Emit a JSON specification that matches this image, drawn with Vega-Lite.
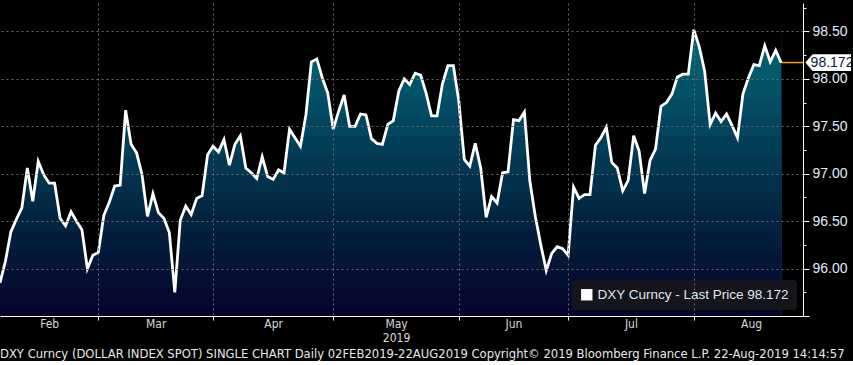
{
  "$schema": "https://vega.github.io/schema/vega-lite/v6.json",
  "background": "#000000",
  "padding": {"left": 0, "top": 0, "right": 0, "bottom": 0},
  "width": 803,
  "height": 313,
  "config": {"view": {"stroke": null}, "font": "DejaVu Sans Condensed, Liberation Sans, sans-serif"},
  "title": {
    "text": "DXY Curncy (DOLLAR INDEX SPOT) SINGLE CHART  Daily 02FEB2019-22AUG2019 Copyright© 2019 Bloomberg Finance L.P. 22-Aug-2019 14:14:57",
    "orient": "bottom", "anchor": "start", "frame": "group",
    "font": "DejaVu Sans Condensed, Liberation Sans, sans-serif", "fontSize": 12.9, "fontWeight": "normal",
    "color": "#e8e8e8", "offset": 5
  },
  "data": {"values": [
    {"session": 0, "price": 95.85}, {"session": 1, "price": 96.08}, {"session": 2, "price": 96.39}, {"session": 3, "price": 96.52},
    {"session": 4, "price": 96.64}, {"session": 5, "price": 97.06}, {"session": 6, "price": 96.71}, {"session": 7, "price": 97.13},
    {"session": 8, "price": 96.99}, {"session": 9, "price": 96.90}, {"session": 10, "price": 96.90}, {"session": 11, "price": 96.53},
    {"session": 12, "price": 96.45}, {"session": 13, "price": 96.60}, {"session": 14, "price": 96.50}, {"session": 15, "price": 96.41},
    {"session": 16, "price": 96.00}, {"session": 17, "price": 96.14}, {"session": 18, "price": 96.17}, {"session": 19, "price": 96.56},
    {"session": 20, "price": 96.70}, {"session": 21, "price": 96.87}, {"session": 22, "price": 96.88}, {"session": 23, "price": 97.67},
    {"session": 24, "price": 97.31}, {"session": 25, "price": 97.22}, {"session": 26, "price": 96.99}, {"session": 27, "price": 96.55},
    {"session": 28, "price": 96.79}, {"session": 29, "price": 96.59}, {"session": 30, "price": 96.53}, {"session": 31, "price": 96.38},
    {"session": 32, "price": 95.75}, {"session": 33, "price": 96.51}, {"session": 34, "price": 96.66}, {"session": 35, "price": 96.57},
    {"session": 36, "price": 96.74}, {"session": 37, "price": 96.77}, {"session": 38, "price": 97.20}, {"session": 39, "price": 97.29},
    {"session": 40, "price": 97.23}, {"session": 41, "price": 97.36}, {"session": 42, "price": 97.09}, {"session": 43, "price": 97.31},
    {"session": 44, "price": 97.40}, {"session": 45, "price": 97.06}, {"session": 46, "price": 97.01}, {"session": 47, "price": 96.95},
    {"session": 48, "price": 97.18}, {"session": 49, "price": 96.97}, {"session": 50, "price": 96.94}, {"session": 51, "price": 97.04},
    {"session": 52, "price": 97.01}, {"session": 53, "price": 97.47}, {"session": 54, "price": 97.38}, {"session": 55, "price": 97.29},
    {"session": 56, "price": 97.62}, {"session": 57, "price": 98.18}, {"session": 58, "price": 98.21}, {"session": 59, "price": 98.01},
    {"session": 60, "price": 97.85}, {"session": 61, "price": 97.47}, {"session": 62, "price": 97.66}, {"session": 63, "price": 97.83},
    {"session": 64, "price": 97.50}, {"session": 65, "price": 97.50}, {"session": 66, "price": 97.63}, {"session": 67, "price": 97.62},
    {"session": 68, "price": 97.37}, {"session": 69, "price": 97.32}, {"session": 70, "price": 97.31}, {"session": 71, "price": 97.52},
    {"session": 72, "price": 97.56}, {"session": 73, "price": 97.87}, {"session": 74, "price": 98.00}, {"session": 75, "price": 97.94},
    {"session": 76, "price": 98.06}, {"session": 77, "price": 98.04}, {"session": 78, "price": 97.85}, {"session": 79, "price": 97.61},
    {"session": 80, "price": 97.61}, {"session": 81, "price": 97.95}, {"session": 82, "price": 98.14}, {"session": 83, "price": 98.14},
    {"session": 84, "price": 97.76}, {"session": 85, "price": 97.15}, {"session": 86, "price": 97.08}, {"session": 87, "price": 97.32},
    {"session": 88, "price": 97.06}, {"session": 89, "price": 96.54}, {"session": 90, "price": 96.76}, {"session": 91, "price": 96.69},
    {"session": 92, "price": 97.01}, {"session": 93, "price": 97.02}, {"session": 94, "price": 97.57}, {"session": 95, "price": 97.56},
    {"session": 96, "price": 97.65}, {"session": 97, "price": 96.92}, {"session": 98, "price": 96.55}, {"session": 99, "price": 96.25},
    {"session": 100, "price": 95.98}, {"session": 101, "price": 96.16}, {"session": 102, "price": 96.23}, {"session": 103, "price": 96.21},
    {"session": 104, "price": 96.14}, {"session": 105, "price": 96.86}, {"session": 106, "price": 96.74}, {"session": 107, "price": 96.78},
    {"session": 108, "price": 96.78}, {"session": 109, "price": 97.30}, {"session": 110, "price": 97.38}, {"session": 111, "price": 97.49},
    {"session": 112, "price": 97.12}, {"session": 113, "price": 97.06}, {"session": 114, "price": 96.82}, {"session": 115, "price": 96.93},
    {"session": 116, "price": 97.40}, {"session": 117, "price": 97.24}, {"session": 118, "price": 96.79}, {"session": 119, "price": 97.14},
    {"session": 120, "price": 97.26}, {"session": 121, "price": 97.71}, {"session": 122, "price": 97.75}, {"session": 123, "price": 97.84},
    {"session": 124, "price": 98.02}, {"session": 125, "price": 98.05}, {"session": 126, "price": 98.05}, {"session": 127, "price": 98.52},
    {"session": 128, "price": 98.34}, {"session": 129, "price": 98.08}, {"session": 130, "price": 97.52}, {"session": 131, "price": 97.64},
    {"session": 132, "price": 97.55}, {"session": 133, "price": 97.63}, {"session": 134, "price": 97.51}, {"session": 135, "price": 97.38},
    {"session": 136, "price": 97.84}, {"session": 137, "price": 98.01}, {"session": 138, "price": 98.15}, {"session": 139, "price": 98.14},
    {"session": 140, "price": 98.35}, {"session": 141, "price": 98.18}, {"session": 142, "price": 98.30}, {"session": 143, "price": 98.172}
  ]},
  "encoding": {
    "x": {
      "field": "session", "type": "quantitative",
      "scale": {"domain": [0, 147], "nice": false, "zero": false},
      "axis": {
        "title": null,
        "values": [9, 18, 28.5, 39, 50, 61, 72.5, 84, 94, 104, 115.5, 127, 137.5],
        "labelExpr": "datum.value==9?'Feb':datum.value==28.5?'Mar':datum.value==50?'Apr':datum.value==72.5?['May','2019']:datum.value==94?'Jun':datum.value==115.5?'Jul':datum.value==137.5?'Aug':''",
        "grid": true,
        "gridColor": {"condition": {"test": "indexof([18,39,61,84,104,127], datum.value) >= 0", "value": "#6a6a6a"}, "value": "transparent"},
        "gridDash": [2, 3],
        "tickColor": {"condition": {"test": "indexof([18,39,61,84,104,127], datum.value) >= 0", "value": "#ffffff"}, "value": "transparent"},
        "tickSize": 4,
        "domainColor": "#ffffff",
        "labelColor": "#d8d8d8",
        "labelFontSize": 12,
        "labelPadding": -2,
        "labelLineHeight": 14,
        "labelFlush": false,
        "labelOverlap": false,
        "zindex": 1
      }
    },
    "y": {
      "field": "price", "type": "quantitative",
      "scale": {"domain": [95.5, 98.8], "nice": false, "zero": false},
      "axis": {
        "title": null,
        "orient": "right",
        "values": [95.5, 95.75, 96, 96.25, 96.5, 96.75, 97, 97.25, 97.5, 97.75, 98, 98.25, 98.5, 98.75],
        "labelExpr": "(datum.value*2)%1==0 && datum.value>=96 ? format(datum.value,'.2f') : ''",
        "grid": true,
        "gridColor": {"condition": {"test": "(datum.value*2)%1==0 && datum.value>=96", "value": "#6a6a6a"}, "value": "transparent"},
        "gridDash": [2, 3],
        "tickSize": {"condition": {"test": "(datum.value*2)%1==0", "value": 6}, "value": 3},
        "tickColor": "#ffffff",
        "domainColor": "#ffffff",
        "labelColor": "#e2ecff",
        "labelFont": "Liberation Sans",
        "labelFontSize": 14,
        "labelPadding": 3,
        "labelOverlap": false,
        "zindex": 1
      }
    }
  },
  "layer": [
    {"mark": {"type": "area", "clip": true, "color": "#016876"}, "encoding": {"y": {"datum": 98.6}, "y2": {"datum": 95.5}}},
    {"mark": {"type": "area", "clip": true, "color": "#026171"}, "encoding": {"y": {"datum": 98.4}, "y2": {"datum": 95.5}}},
    {"mark": {"type": "area", "clip": true, "color": "#025a6d"}, "encoding": {"y": {"datum": 98.2}, "y2": {"datum": 95.5}}},
    {"mark": {"type": "area", "clip": true, "color": "#025368"}, "encoding": {"y": {"datum": 98.0}, "y2": {"datum": 95.5}}},
    {"mark": {"type": "area", "clip": true, "color": "#034c63"}, "encoding": {"y": {"datum": 97.8}, "y2": {"datum": 95.5}}},
    {"mark": {"type": "area", "clip": true, "color": "#03455e"}, "encoding": {"y": {"datum": 97.6}, "y2": {"datum": 95.5}}},
    {"mark": {"type": "area", "clip": true, "color": "#033e58"}, "encoding": {"y": {"datum": 97.4}, "y2": {"datum": 95.5}}},
    {"mark": {"type": "area", "clip": true, "color": "#033752"}, "encoding": {"y": {"datum": 97.2}, "y2": {"datum": 95.5}}},
    {"mark": {"type": "area", "clip": true, "color": "#03314b"}, "encoding": {"y": {"datum": 97.0}, "y2": {"datum": 95.5}}},
    {"mark": {"type": "area", "clip": true, "color": "#032a45"}, "encoding": {"y": {"datum": 96.8}, "y2": {"datum": 95.5}}},
    {"mark": {"type": "area", "clip": true, "color": "#03233f"}, "encoding": {"y": {"datum": 96.6}, "y2": {"datum": 95.5}}},
    {"mark": {"type": "area", "clip": true, "color": "#031d3b"}, "encoding": {"y": {"datum": 96.4}, "y2": {"datum": 95.5}}},
    {"mark": {"type": "area", "clip": true, "color": "#041737"}, "encoding": {"y": {"datum": 96.2}, "y2": {"datum": 95.5}}},
    {"mark": {"type": "area", "clip": true, "color": "#041032"}, "encoding": {"y": {"datum": 96.0}, "y2": {"datum": 95.5}}},
    {"mark": {"type": "area", "clip": true, "color": "#050a2e"}, "encoding": {"y": {"datum": 95.8}, "y2": {"datum": 95.5}}},
    {"mark": {"type": "area", "clip": true, "color": "#05052b"}, "encoding": {"y": {"datum": 95.6}, "y2": {"datum": 95.5}}},
    {"mark": {"type": "area", "clip": true, "color": "#000000"}, "encoding": {"y2": {"datum": 98.8}}},
    {
      "mark": {"type": "line", "strokeWidth": 2.8, "clip": true},
      "encoding": {
        "color": {
          "datum": "DXY Curncy - Last Price 98.172", "type": "nominal",
          "scale": {"range": ["#ffffff"]},
          "legend": {
            "title": null, "orient": "bottom-right", "offset": 6,
            "fillColor": "#15151b", "cornerRadius": 3, "padding": 8,
            "symbolType": "square", "symbolSize": 130,
            "symbolFillColor": "#ffffff", "symbolStrokeColor": "#ffffff", "symbolStrokeWidth": 0,
            "labelColor": "#dfe8f2", "labelFont": "Liberation Sans", "labelFontSize": 13.5, "labelLimit": 400
          }
        }
      }
    },
    {
      "transform": [{"filter": "datum.session == 143"}],
      "mark": {"type": "rule", "color": "#ff9a1a", "strokeWidth": 1.5},
      "encoding": {
        "x": {"field": "session", "type": "quantitative"},
        "x2": {"datum": 147},
        "y": {"field": "price", "type": "quantitative"}
      }
    },
    {
      "transform": [{"filter": "datum.session == 143"}],
      "mark": {"type": "point", "shape": "M0.1,0 L0.4,-0.35 L2,-0.35 L2,0.35 L0.4,0.35 Z", "filled": true, "color": "#ffffff", "opacity": 1, "size": 2304, "clip": false},
      "encoding": {
        "x": {"datum": 147, "type": "quantitative"},
        "y": {"field": "price", "type": "quantitative"}
      }
    },
    {
      "transform": [{"filter": "datum.session == 143"}],
      "mark": {"type": "text", "dx": 29, "align": "center", "baseline": "middle", "font": "Liberation Sans", "fontSize": 14, "color": "#061a3c", "clip": false},
      "encoding": {
        "x": {"datum": 147, "type": "quantitative"},
        "y": {"field": "price", "type": "quantitative"},
        "text": {"field": "price", "type": "quantitative", "format": ".3f"}
      }
    }
  ]
}
